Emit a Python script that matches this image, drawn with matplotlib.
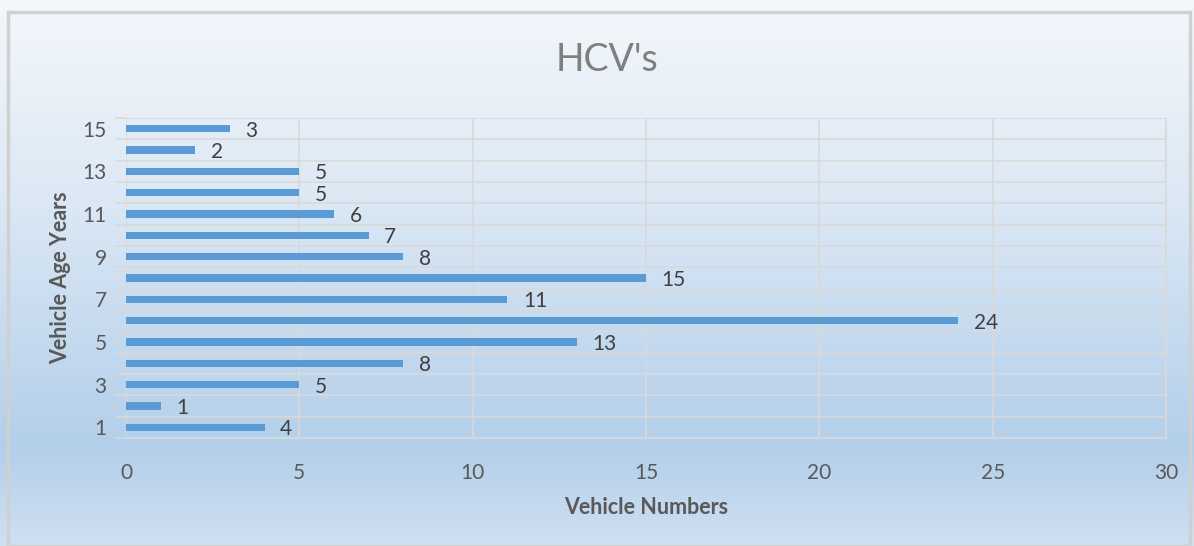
"""HCV's - vehicle age distribution, horizontal bar chart."""
import matplotlib
matplotlib.use("Agg")
import matplotlib.pyplot as plt
import matplotlib.patches as mpatches
from matplotlib.colors import LinearSegmentedColormap
import numpy as np

years = list(range(1, 16))
counts = [4, 1, 5, 8, 13, 24, 11, 15, 8, 7, 6, 5, 5, 2, 3]
x_ticks = [0, 5, 10, 15, 20, 25, 30]
y_tick_labels = [1, 3, 5, 7, 9, 11, 13, 15]

plt.rcParams["font.family"] = ["Lato", "DejaVu Sans"]

fig = plt.figure(figsize=(11.94, 5.46), dpi=100)

# background gradient (whole chart area)
bg = fig.add_axes([0, 0, 1, 1], zorder=-10)
cmap = LinearSegmentedColormap.from_list(
    "bg", [(0.0, "#f4f7fb"), (0.35, "#dde9f5"), (0.82, "#b3cfea"), (1.0, "#cfe0f2")])
grad = np.linspace(0, 1, 256).reshape(-1, 1)
bg.imshow(grad, aspect="auto", cmap=cmap, extent=[0, 1, 0, 1], origin="upper")
bg.set_xlim(0, 1)
bg.set_ylim(0, 1)
bg.axis("off")
fig.patches.append(mpatches.Rectangle((8 / 1194, 0), 1182 / 1194, 534 / 546,
                                      transform=fig.transFigure, fill=False,
                                      edgecolor="#d0d0d0", linewidth=2.5))

ax = fig.add_axes([126 / 1194, 1 - 438 / 546, 1040 / 1194, 320 / 546])
ax.patch.set_alpha(0)

ax.barh(years, counts, height=0.33, color="#5b9bd5", zorder=3)
for y, v in zip(years, counts):
    ax.text(v + 0.45, y - 0.1, str(v), va="center", ha="left",
            fontsize=15, color="#404040", zorder=4)

ax.set_xlim(0, 30)
ax.set_ylim(0.5, 15.5)
ax.set_xticks(x_ticks)
ax.set_yticks(y_tick_labels)
ax.set_yticks(np.arange(0.5, 16, 1), minor=True)
ax.tick_params(axis="y", which="major", length=0, labelsize=15, labelcolor="#595959", pad=14)
ax.tick_params(axis="y", which="minor", length=8, color="#d9d9d9", width=1.2)
ax.tick_params(axis="x", length=0, labelsize=15, labelcolor="#595959", pad=18)
ax.grid(axis="x", color="#d9d9d9", linewidth=1.2, zorder=0)
ax.grid(axis="y", which="minor", color="#d9d9d9", linewidth=1.2, zorder=0)
for s in ["top", "left"]:
    ax.spines[s].set_visible(False)
ax.spines["right"].set_color("#d9d9d9")
ax.spines["bottom"].set_color("#d9d9d9")
ax.spines["right"].set_linewidth(1.2)
ax.spines["bottom"].set_linewidth(1.2)

ax.set_xlabel("Vehicle Numbers", fontsize=15.5, fontweight="bold", color="#595959", labelpad=10)
ax.set_ylabel("Vehicle Age Years", fontsize=15.5, fontweight="bold", color="#595959", labelpad=8)
fig.text(607 / 1194, 1 - 60 / 546, "HCV's", ha="center", va="center",
         fontsize=27, color="#7f7f7f")

fig.savefig("out.png", dpi=100)
